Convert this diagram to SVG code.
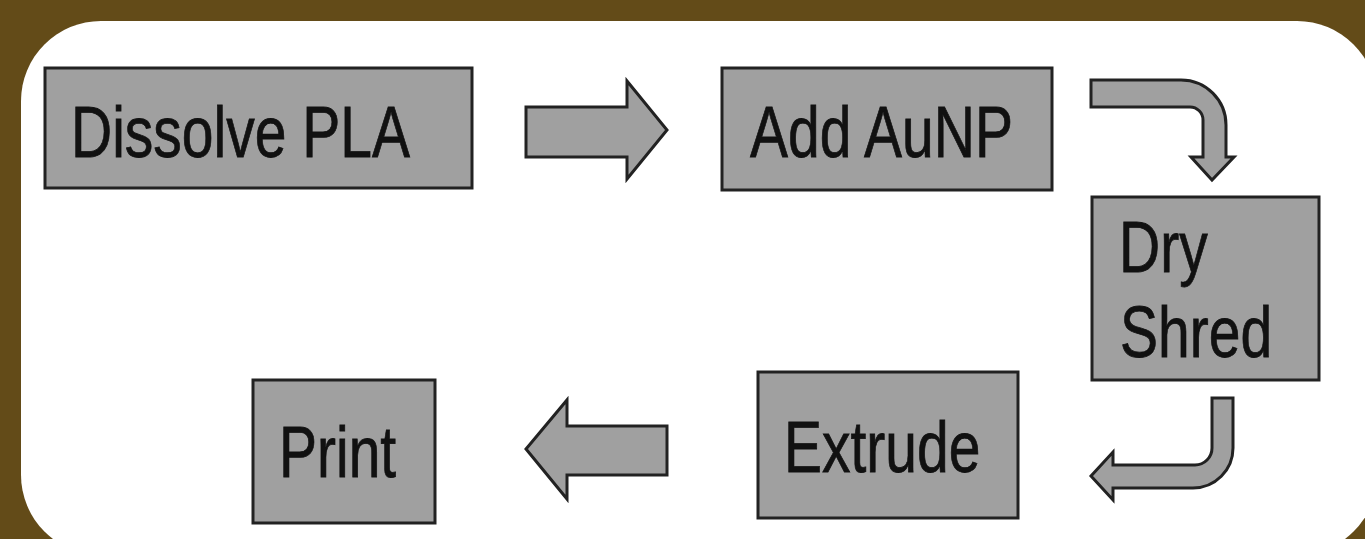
<svg xmlns="http://www.w3.org/2000/svg" width="1365" height="539" viewBox="0 0 1365 539">
<style>
.box{fill:#a0a0a0;stroke:#222;stroke-width:3}
.arr{fill:#a0a0a0;stroke:#222;stroke-width:3;stroke-linejoin:miter}
.lbl{font-family:"Liberation Sans",Arial,sans-serif;font-size:57px;fill:#111;stroke:#111;stroke-width:0.6}
</style>
<rect x="0" y="0" width="1365" height="539" fill="#634b18"/>
<rect x="21" y="21" width="1356" height="534" rx="80" ry="80" fill="#ffffff"/>
<g id="node-dissolve">
<rect class="box" x="45" y="68" width="427" height="120"/>
<text class="lbl" transform="translate(71,157) scale(1,1.27)">Dissolve PLA</text>
</g>
<g id="node-add">
<rect class="box" x="722" y="68" width="330" height="122"/>
<text class="lbl" transform="translate(750,157) scale(1,1.27)">Add AuNP</text>
</g>
<g id="node-dry">
<rect class="box" x="1092" y="197" width="227" height="183"/>
<text class="lbl" transform="translate(1119,272) scale(1,1.27)">Dry</text>
<text class="lbl" transform="translate(1120,357) scale(1,1.27)">Shred</text>
</g>
<g id="node-extrude">
<rect class="box" x="758" y="372" width="260" height="146"/>
<text class="lbl" transform="translate(784,472) scale(1,1.27)">Extrude</text>
</g>
<g id="node-print">
<rect class="box" x="253" y="380" width="182" height="143"/>
<text class="lbl" transform="translate(279,477) scale(1,1.27)">Print</text>
</g>
<g id="connectors">
<path class="arr" d="M526,107 H627 V81 L667,130 L627,179 V157 H526 Z"/>
<path class="arr" d="M1091,80 H1181 A45,45 0 0 1 1226,125 V157 H1234 L1212,180 L1191,157 H1203 V120 A13,13 0 0 0 1190,107 H1091 Z"/>
<path class="arr" d="M1212,398 H1233 V448 A40,40 0 0 1 1193,488 H1113 V500 L1091,476 L1113,452 V465 H1195 A17,17 0 0 0 1212,448 Z"/>
<path class="arr" d="M667,426 H567 V400 L526,449 L567,499 V475 H667 Z"/>
</g>
</svg>
